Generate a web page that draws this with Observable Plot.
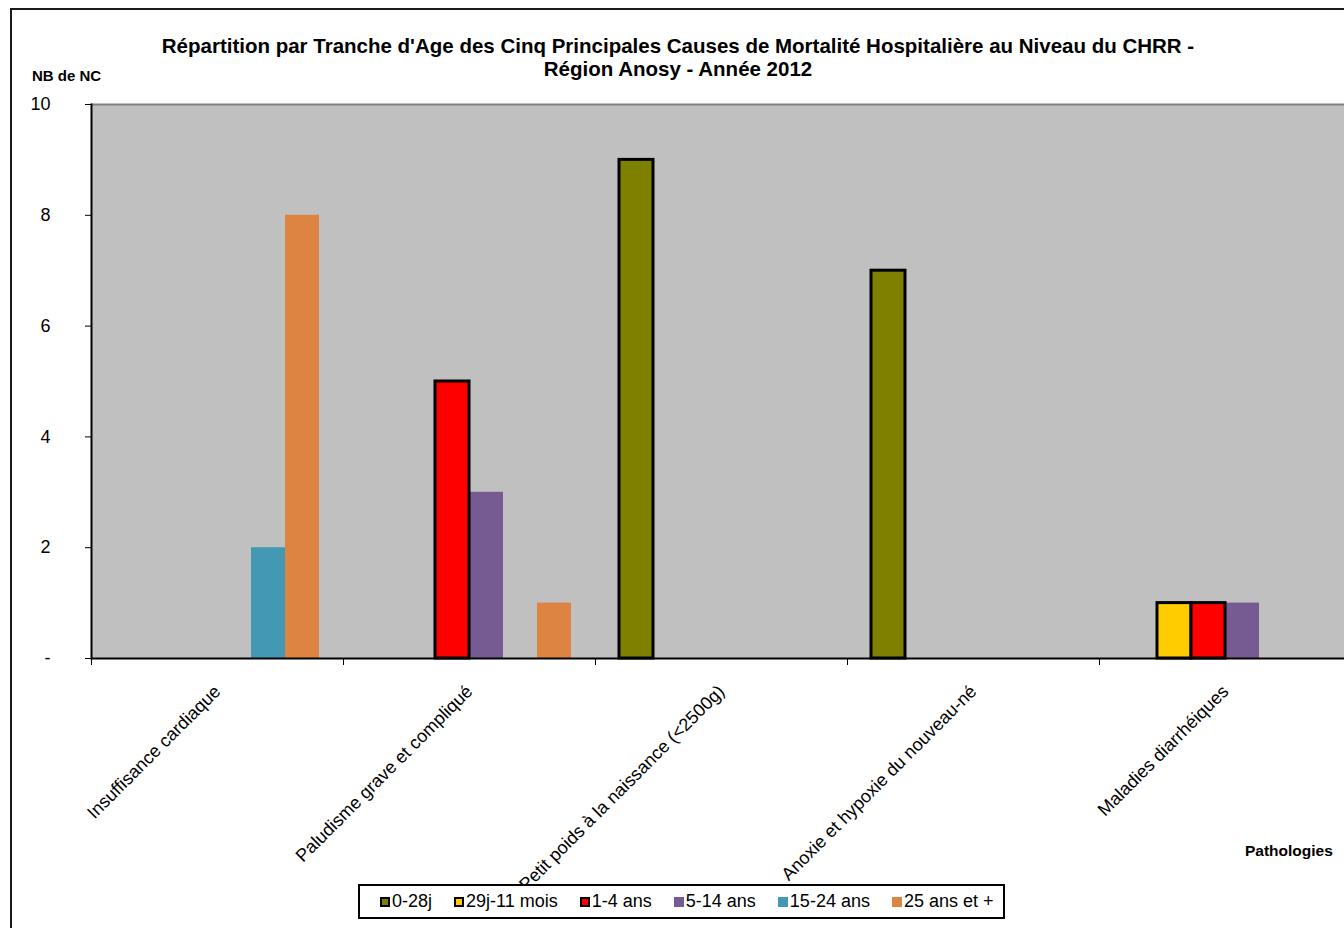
<!DOCTYPE html>
<html>
<head>
<meta charset="utf-8">
<script src="https://cdn.jsdelivr.net/npm/d3@7"></script>
<script src="https://cdn.jsdelivr.net/npm/@observablehq/plot@0.6"></script>
<style>
  html, body { margin: 0; padding: 0; background: #fff; overflow: hidden; width: 1344px; height: 928px; }
  body { position: relative; font-family: "Liberation Sans", Arial, sans-serif; color: #000; }
  #border { position: absolute; left: 10px; top: 8px; width: 1400px; height: 1000px; border-left: 2px solid #1a1a1a; border-top: 2px solid #1a1a1a; }
  #chart { position: absolute; left: 0; top: 0; width: 1359px; }
  #title { position: absolute; left: 128px; width: 1100px; top: 34px; text-align: center; font-weight: bold; font-size: 20.5px; line-height: 23px; }
  #ylabel { position: absolute; left: 32px; top: 67px; font-weight: bold; font-size: 15px; }
  #xlabel { position: absolute; left: 1245px; top: 842px; font-weight: bold; font-size: 15.5px; }
  #legend { position: absolute; left: 358px; top: 884px; width: 623px; height: 31px; border: 2px solid #000; background: #fff; display: flex; align-items: center; padding-left: 20px; box-sizing: content-box; gap: 22px; font-size: 18px; }
  .item { display: flex; align-items: center; gap: 2px; white-space: nowrap; }
  .sw { width: 10px; height: 10px; box-sizing: border-box; }
</style>
</head>
<body>
<div id="border"></div>
<div id="chart"></div>
<div id="title">Répartition par Tranche d'Age des Cinq Principales Causes de Mortalité Hospitalière au Niveau du CHRR -<br>Région Anosy - Année 2012</div>
<div id="ylabel">NB de NC</div>
<div id="xlabel">Pathologies</div>
<div id="legend"></div>
<script>
const categories = [
  "Insuffisance cardiaque",
  "Paludisme grave et compliqué",
  "Petit poids à la naissance (<2500g)",
  "Anoxie et hypoxie du nouveau-né",
  "Maladies diarrhéiques"
];
const series = ["0-28j", "29j-11 mois", "1-4 ans", "5-14 ans", "15-24 ans", "25 ans et +"];
const colors = ["#808000", "#FFCC00", "#FF0000", "#765A92", "#4399B4", "#DD8442"];
const outlined = ["0-28j", "29j-11 mois", "1-4 ans"];

const v_0_28j   = [0, 0, 9, 7, 0];
const v_29j_11m = [0, 0, 0, 0, 1];
const v_1_4     = [0, 5, 0, 0, 1];
const v_5_14    = [0, 3, 0, 0, 1];
const v_15_24   = [2, 0, 0, 0, 0];
const v_25plus  = [8, 1, 0, 0, 0];
const seriesValues = [v_0_28j, v_29j_11m, v_1_4, v_5_14, v_15_24, v_25plus];

const yTicks = [0, 2, 4, 6, 8, 10];

const data = [];
series.forEach((s, si) => {
  categories.forEach((c, ci) => {
    data.push({cat: c, series: s, value: seriesValues[si][ci]});
  });
});
const nonZero = data.filter(d => d.value > 0);
const plain = nonZero.filter(d => !outlined.includes(d.series));
const stroked = nonZero.filter(d => outlined.includes(d.series));

const W = 1359, ML = 91, MR = 8;
const half = (W - ML - MR) / categories.length / 2;

const chart = Plot.plot({
  width: W,
  height: 928,
  marginTop: 104,
  marginBottom: 270,
  marginLeft: ML,
  marginRight: MR,
  style: {fontFamily: "'Liberation Sans', Arial, sans-serif", fontSize: "18px", background: "transparent", color: "#000", overflow: "visible", maxWidth: "none"},
  fx: {domain: categories, padding: 0, label: null},
  x: {domain: series, paddingInner: 0, paddingOuter: 0.7, axis: null},
  y: {domain: [0, 10], label: null},
  color: {domain: series, range: colors},
  marks: [
    Plot.frame({fill: "#c0c0c0", stroke: "#c0c0c0", strokeWidth: 1}),
    Plot.ruleY([10], {stroke: "#808080", strokeWidth: 2}),
    Plot.barY(plain, {fx: "cat", x: "series", y: "value", fill: "series"}),
    Plot.barY(stroked, {fx: "cat", x: "series", y: "value", fill: "series", stroke: "#000", strokeWidth: 3}),
    Plot.ruleY([0], {stroke: "#000", strokeWidth: 2}),
    Plot.frame({anchor: "left", facetAnchor: "left", stroke: "#000", strokeWidth: 2}),
    Plot.axisY({ticks: yTicks, tickFormat: d => d === 0 ? "-" : String(d), tickSize: 6, tickPadding: 35, label: null, fontSize: 18}),
    Plot.axisFx({anchor: "bottom", tickSize: 7, tickFormat: () => "", dx: -half, label: null}),
    Plot.axisFx({anchor: "bottom", tickSize: 0, tickPadding: 30, tickRotate: -45, label: null, fontSize: 18})
  ]
});
document.getElementById("chart").appendChild(chart);

const legend = document.getElementById("legend");
series.forEach((s, i) => {
  const item = document.createElement("div");
  item.className = "item";
  const sw = document.createElement("span");
  sw.className = "sw";
  sw.style.background = colors[i];
  if (outlined.includes(s)) sw.style.border = "2px solid #000";
  const t = document.createElement("span");
  t.textContent = s;
  item.appendChild(sw);
  item.appendChild(t);
  legend.appendChild(item);
});
</script>
</body>
</html>
